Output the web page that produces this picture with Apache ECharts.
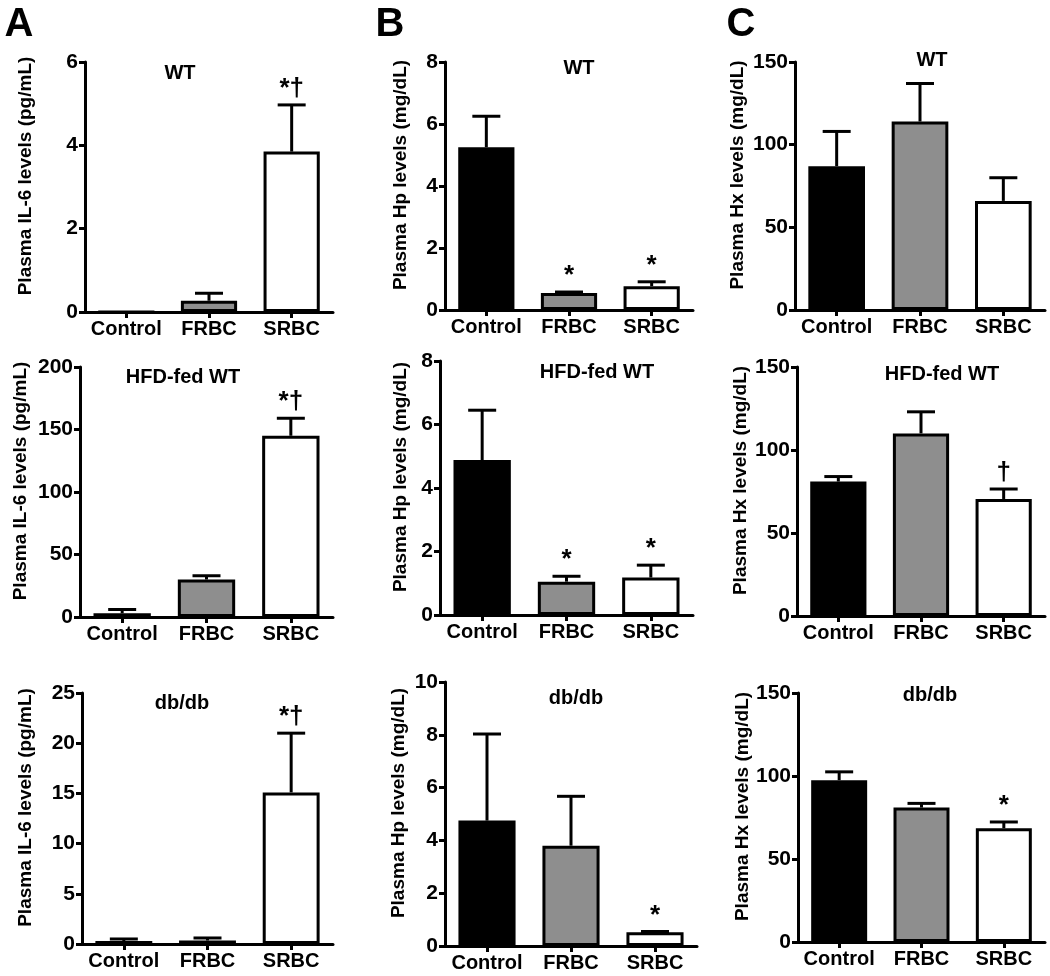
<!DOCTYPE html>
<html>
	<head>
		<meta charset="UTF-8">
		<title>Plasma IL-6, Hp and Hx levels</title>
		<style>
			html, body { margin: 0; padding: 0; background: #fff; }
		</style>
	</head>
	<body>
		<div id="main" style="width:1050px;height:976px;"></div>
	</body>
	<script type="text/javascript" src="https://cdn.jsdelivr.net/npm/echarts@6/dist/echarts.min.js"></script>
	<script>
		// groups on every x axis
		var categories = ['Control', 'FRBC', 'SRBC'];

		// A - plasma IL-6 (pg/mL), mean and SEM
		var il6Wt = [0, 0.27, 3.85];
		var il6WtSem = [0, 0.18, 1.12];
		var il6Hfd = [3, 30, 145];
		var il6HfdSem = [3, 3, 14];
		var il6Db = [0.3, 0.35, 15.1];
		var il6DbSem = [0.2, 0.25, 5.9];

		// B - plasma Hp (mg/dL)
		var hpWt = [5.25, 0.55, 0.77];
		var hpWtSem = [1.0, 0.03, 0.14];
		var hpHfd = [4.88, 1.05, 1.18];
		var hpHfdSem = [1.57, 0.17, 0.39];
		var hpDb = [4.75, 3.8, 0.52];
		var hpDbSem = [3.28, 1.87, 0.03];

		// C - plasma Hx (mg/dL)
		var hxWt = [87, 114, 66];
		var hxWtSem = [21, 23, 14];
		var hxHfd = [81, 110, 70.5];
		var hxHfdSem = [3, 13, 6];
		var hxDb = [97.5, 81, 68.5];
		var hxDbSem = [5, 2.5, 3.8];

		// significance marks above the bars
		var il6Marks = ['', '', '*†'];
		var hpWtMarks = ['', '*', '*'];
		var hpHfdMarks = ['', '*', '*'];
		var hpDbMarks = ['', '', '*'];
		var hxWtMarks = ['', '', ''];
		var hxHfdMarks = ['', '', '†'];
		var hxDbMarks = ['', '', '*'];

		// y tick labels
		var il6WtTicks = [0, 2, 4, 6];
		var il6HfdTicks = [0, 50, 100, 150, 200];
		var il6DbTicks = [0, 5, 10, 15, 20, 25];
		var hpTicks = [0, 2, 4, 6, 8];
		var hpDbTicks = [0, 2, 4, 6, 8, 10];
		var hxTicks = [0, 50, 100, 150];

		var FONT = '"Liberation Sans", Arial, Helvetica, sans-serif';
		var barColors = ['#000000', '#8e8e8e', '#ffffff'];

		var il6Name = 'Plasma IL-6 levels (pg/mL)';
		var hpName = 'Plasma Hp levels (mg/dL)';
		var hxName = 'Plasma Hx levels (mg/dL)';

		// box: left, top, width, height of each plot area
		var panels = [
			{mean: il6Wt, sem: il6WtSem, marks: il6Marks, ticks: il6WtTicks, name: il6Name, title: 'WT', box: [85, 62, 248, 250], gap: 50, tx: 180, ty: 73},
			{mean: hpWt, sem: hpWtSem, marks: hpWtMarks, ticks: hpTicks, name: hpName, title: 'WT', box: [445, 62, 248, 248], gap: 35, tx: 579, ty: 68},
			{mean: hxWt, sem: hxWtSem, marks: hxWtMarks, ticks: hxTicks, name: hxName, title: 'WT', box: [795, 62, 250, 248], gap: 48, tx: 932, ty: 60},
			{mean: il6Hfd, sem: il6HfdSem, marks: il6Marks, ticks: il6HfdTicks, name: il6Name, title: 'HFD-fed WT', box: [80, 367, 253, 250], gap: 50, tx: 183, ty: 377},
			{mean: hpHfd, sem: hpHfdSem, marks: hpHfdMarks, ticks: hpTicks, name: hpName, title: 'HFD-fed WT', box: [440, 361, 253, 254], gap: 30, tx: 597, ty: 372},
			{mean: hxHfd, sem: hxHfdSem, marks: hxHfdMarks, ticks: hxTicks, name: hxName, title: 'HFD-fed WT', box: [797, 367, 248, 249], gap: 47, tx: 942, ty: 374},
			{mean: il6Db, sem: il6DbSem, marks: il6Marks, ticks: il6DbTicks, name: il6Name, title: 'db/db', box: [82, 693, 251, 251], gap: 47, tx: 182, ty: 703},
			{mean: hpDb, sem: hpDbSem, marks: hpDbMarks, ticks: hpDbTicks, name: hpName, title: 'db/db', box: [445, 682, 252, 264], gap: 37, tx: 576, ty: 698},
			{mean: hxDb, sem: hxDbSem, marks: hxDbMarks, ticks: hxTicks, name: hxName, title: 'db/db', box: [798, 693, 247, 249], gap: 43, tx: 930, ty: 695}
		];

		// upper-only error bar with cap, plus the significance mark
		function errorRenderer(marks) {
			return function (params, api) {
				var i = api.value(0);
				var m = api.value(1);
				var s = api.value(2);
				var base = api.coord([i, m]);
				var top = api.coord([i, m + s]);
				var children = [];
				if (s > 0) {
					children.push({
						type: 'line',
						shape: {x1: base[0], y1: base[1], x2: top[0], y2: top[1]},
						style: {stroke: '#000', lineWidth: 3}
					});
					children.push({
						type: 'line',
						shape: {x1: top[0] - 14, y1: top[1], x2: top[0] + 14, y2: top[1]},
						style: {stroke: '#000', lineWidth: 3}
					});
				}
				if (marks[params.dataIndex]) {
					children.push({
						type: 'text',
						x: top[0],
						y: top[1] - 3,
						style: {
							text: marks[params.dataIndex],
							font: 'bold 26px ' + FONT,
							fill: '#000',
							align: 'center',
							verticalAlign: 'bottom'
						}
					});
				}
				return {type: 'group', children: children};
			};
		}

		var option = {
			animation: false,
			backgroundColor: '#fff',
			grid: [],
			xAxis: [],
			yAxis: [],
			series: [],
			graphic: [
				{type: 'text', x: 19, y: 25, style: {text: 'A', font: 'bold 40px ' + FONT, fill: '#000', align: 'center', verticalAlign: 'middle'}},
				{type: 'text', x: 390, y: 25, style: {text: 'B', font: 'bold 40px ' + FONT, fill: '#000', align: 'center', verticalAlign: 'middle'}},
				{type: 'text', x: 741, y: 25, style: {text: 'C', font: 'bold 40px ' + FONT, fill: '#000', align: 'center', verticalAlign: 'middle'}}
			]
		};

		panels.forEach(function (p, k) {
			var t = p.ticks;
			option.grid.push({left: p.box[0], top: p.box[1], width: p.box[2], height: p.box[3], containLabel: false});
			option.xAxis.push({
				type: 'category',
				gridIndex: k,
				data: categories,
				axisLine: {show: true, lineStyle: {color: '#000', width: 3}},
				axisTick: {show: true, alignWithLabel: true, length: 6, lineStyle: {color: '#000', width: 3}},
				axisLabel: {interval: 0, hideOverlap: false, color: '#000', fontSize: 20, fontWeight: 'bold', fontFamily: FONT, margin: 7}
			});
			option.yAxis.push({
				type: 'value',
				gridIndex: k,
				min: t[0],
				max: t[t.length - 1],
				interval: t[1] - t[0],
				name: p.name,
				nameLocation: 'middle',
				nameGap: p.gap,
				nameTextStyle: {color: '#000', fontSize: 19, fontWeight: 'bold', fontFamily: FONT, padding: [0, 0, 0, 22]},
				axisLine: {show: true, lineStyle: {color: '#000', width: 3}},
				axisTick: {show: true, length: 6, lineStyle: {color: '#000', width: 3}},
				axisLabel: {color: '#000', fontSize: 21, fontWeight: 'bold', fontFamily: FONT, margin: 7},
				splitLine: {show: false}
			});
			option.series.push({
				type: 'bar',
				xAxisIndex: k,
				yAxisIndex: k,
				barWidth: '68%',
				data: p.mean.map(function (v, i) {
					return {value: v, itemStyle: {color: barColors[i], borderColor: '#000', borderWidth: 3}};
				})
			});
			option.series.push({
				type: 'custom',
				xAxisIndex: k,
				yAxisIndex: k,
				z: 5,
				renderItem: errorRenderer(p.marks),
				encode: {x: 0, y: 1},
				data: p.mean.map(function (v, i) { return [i, v, p.sem[i]]; })
			});
			option.graphic.push({
				type: 'text',
				x: p.tx,
				y: p.ty,
				style: {text: p.title, font: 'bold 20px ' + FONT, fill: '#000', align: 'center', verticalAlign: 'middle'}
			});
		});

		var chart = echarts.init(document.getElementById('main'));
		chart.setOption(option);
	</script>
</html>
